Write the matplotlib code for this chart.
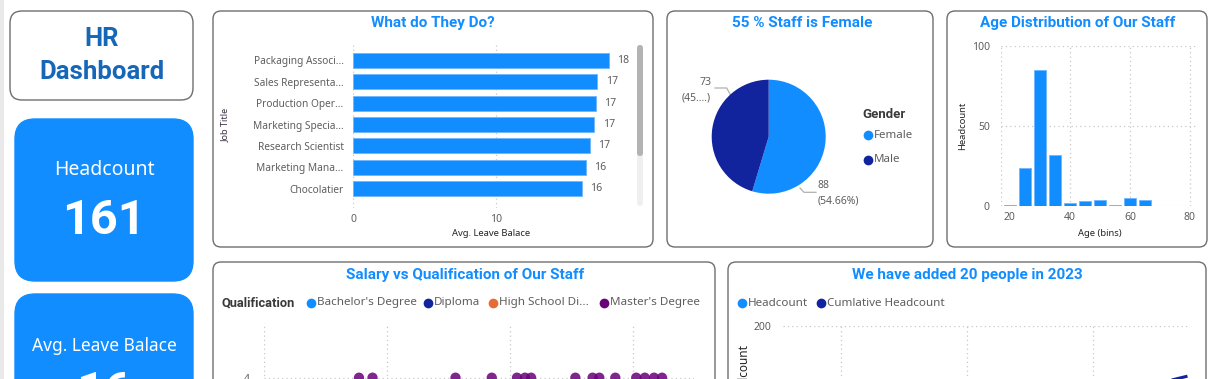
import matplotlib
matplotlib.use("Agg")
import matplotlib.pyplot as plt
from matplotlib.patches import FancyBboxPatch, Rectangle

W, H = 1221, 379
BLUE = "#118DFF"
NAVY = "#12239E"
ORANGE = "#E66C37"
PURPLE = "#6B007B"
TITLE_C = "#118DFF"
GRAY_TXT = "#605E5C"
DARK_TXT = "#252423"
GRID_C = "#C8C8C8"
BORDER_C = "#6E6E6E"
HR_C = "#1767B8"
BODY = ["Noto Sans", "DejaVu Sans"]
BOLD_F = ["Roboto", "DejaVu Sans"]
TITLE_F = ["Roboto", "DejaVu Sans"]
NUM_F = ["Roboto", "DejaVu Sans"]

# ---------------- data ----------------
kpi_headcount = "161"
kpi_leave = "16"
job_titles = ["Packaging Associ...", "Sales Representa...", "Production Oper...",
              "Marketing Specia...", "Research Scientist", "Marketing Mana...",
              "Chocolatier"]
job_leave = [17.9, 17.1, 17.0, 16.9, 16.6, 16.3, 16.0]
gender_labels = ["Female", "Male"]
gender_counts = [88, 73]
gender_pct_text = ["(54.66%)", "(45....)"]
age_bins = [20, 25, 30, 35, 40, 45, 50, 55, 60, 65]
age_counts = [1, 24, 85, 32, 2, 3, 4, 1, 5, 4]
qual_labels = ["Bachelor's Degree", "Diploma", "High School Di...", "Master's Degree"]
masters_salary = [35.5, 37.7, 51.2, 57.1, 61.2, 62.5, 63.5, 70.7, 73.5, 74.6,
                  77.2, 80.6, 82.0, 83.5, 84.8]
masters_level = [4] * len(masters_salary)
hire_period = [2022.75, 2023.0, 2023.25, 2023.5, 2023.75]
hire_headcount = [4, 5, 6, 8, 6]
hire_cumulative = [136, 141, 147, 155, 161]

# ---------------- figure ----------------
fig = plt.figure(figsize=(W / 100, H / 100), dpi=100)
fig.patch.set_facecolor("white")
bg = fig.add_axes([0, 0, 1, 1])
bg.set_xlim(0, W)
bg.set_ylim(H, 0)
bg.axis("off")


def ax_px(x0, y0, x1, y1):
    return fig.add_axes([x0 / W, 1 - y1 / H, (x1 - x0) / W, (y1 - y0) / H])


def rbox(x0, y0, x1, y1, r, fc="white", ec=BORDER_C, lw=1.0):
    bg.add_patch(FancyBboxPatch((x0, y0), x1 - x0, y1 - y0,
                                boxstyle=f"round,pad=0,rounding_size={r}",
                                fc=fc, ec=ec, lw=lw))


def style_grid_ax(ax):
    ax.set_facecolor("none")
    for s in ax.spines.values():
        s.set_visible(False)
    ax.tick_params(length=0, colors=GRAY_TXT, labelsize=7.5)


DOT = (0, (1, 2.5))

# left strip
bg.add_patch(Rectangle((0, 0), 4, H, fc="#E9E9E9", ec="none"))

# HR box
rbox(10, 11, 193, 100, 12)
bg.text(101.5, 39, "HR", ha="center", va="center", color=HR_C, fontsize=18.5,
        fontweight="bold", family=BOLD_F)
bg.text(101.5, 72, "Dashboard", ha="center", va="center", color=HR_C, fontsize=18.5,
        fontweight="bold", family=BOLD_F)

# KPI cards
rbox(15, 119, 193, 281, 20, fc=BLUE, ec=BLUE)
bg.text(104, 170, "Headcount", ha="center", va="center", color="white",
        fontsize=14, family=BODY)
bg.text(104, 221, kpi_headcount, ha="center", va="center", color="white",
        fontsize=35, fontweight="bold", family=NUM_F)
rbox(15, 294, 193, 460, 20, fc=BLUE, ec=BLUE)
bg.text(104, 346, "Avg. Leave Balace", ha="center", va="center", color="white",
        fontsize=12.5, family=BODY)
bg.text(104, 393, kpi_leave, ha="center", va="center", color="white",
        fontsize=35, fontweight="bold", family=NUM_F)

# panel frames
rbox(213, 11, 653, 247, 8)
rbox(667, 11, 933, 247, 8)
rbox(947, 11, 1207, 247, 8)
rbox(213, 262, 715, 460, 8)
rbox(728, 262, 1206, 460, 8)

# titles
for x, y, t in [(433, 23, "What do They Do?"), (802, 23, "55 % Staff is Female"),
                (1078, 23, "Age Distribution of Our Staff"),
                (465, 275, "Salary vs Qualification of Our Staff"),
                (967, 275, "We have added 20 people in 2023")]:
    bg.text(x, y, t, ha="center", va="center", color=TITLE_C, fontsize=11,
            fontweight="bold", family=TITLE_F)

# ---------------- bar chart ----------------
ax1 = ax_px(353.3, 44, 630, 208)
style_grid_ax(ax1)
ypos = list(range(len(job_titles)))
bars = ax1.barh(ypos, job_leave, height=0.7, color=BLUE, edgecolor="#6FB6FF", lw=0.6)
ax1.set_ylim(6.9, -0.76)
ax1.set_xlim(0, 19.4)
ax1.set_yticks(ypos)
ax1.set_yticklabels(job_titles, family=BODY, fontsize=7.3, color=GRAY_TXT)
ax1.set_xticks([0, 10])
ax1.set_xticklabels(["0", "10"], family=BODY, fontsize=7.5, color=GRAY_TXT)
ax1.tick_params(axis="y", pad=7)
ax1.tick_params(axis="x", pad=4)
ax1.grid(axis="x", color=GRID_C, lw=0.9, ls=DOT)
ax1.set_axisbelow(True)
ax1.bar_label(bars, labels=[f"{v:.0f}" for v in job_leave], padding=6,
              fontsize=7.5, color=GRAY_TXT, family=BODY)
bg.text(491.5, 234, "Avg. Leave Balace", ha="center", va="center", color=DARK_TXT,
        fontsize=6.8, family=BODY)
bg.text(225, 125, "Job Title", ha="center", va="center", rotation=90, color="#3A2F45",
        fontsize=6.5, family=BODY)
# scrollbar
bg.add_patch(FancyBboxPatch((637, 45), 6, 161, boxstyle="round,pad=0,rounding_size=3",
                            fc="#EFEFEF", ec="none"))
bg.add_patch(FancyBboxPatch((637, 45), 6, 111, boxstyle="round,pad=0,rounding_size=3",
                            fc="#B3B3B3", ec="none"))

# ---------------- pie ----------------
ax2 = ax_px(711.7, 79.7, 825.7, 193.7)
ax2.pie(gender_counts, colors=[BLUE, NAVY], startangle=90, counterclock=False,
        radius=1, wedgeprops=dict(lw=0))
ax2.set_xlim(-1, 1)
ax2.set_ylim(-1, 1)
bg.text(711, 90.5, f"{gender_counts[1]}\n{gender_pct_text[1]}", ha="right",
        va="center", color=GRAY_TXT, fontsize=7.5, family=BODY, linespacing=1.55)
bg.text(818, 193, f"{gender_counts[0]}\n{gender_pct_text[0]}", ha="left",
        va="center", color=GRAY_TXT, fontsize=7.5, family=BODY, linespacing=1.55)
bg.plot([715, 726.7, 730.7], [88, 88, 95.3], color="#B0B0B0", lw=0.9)
bg.plot([800, 804, 816], [188, 192.3, 192.3], color="#B0B0B0", lw=0.9)
bg.text(862, 115, "Gender", ha="left", va="center", color="#3B3A39", fontsize=9.5,
        fontweight="bold", family=BOLD_F)
for yy, lab, c in [(135, gender_labels[0], BLUE), (160, gender_labels[1], NAVY)]:
    bg.plot([867.5], [yy], "o", ms=7, color=c, mec="none")
    bg.text(874, yy, lab, ha="left", va="center", color=GRAY_TXT, fontsize=8.3,
            family=BODY)

# ---------------- histogram ----------------
ax3 = ax_px(1001, 46.3, 1198, 206.3)
style_grid_ax(ax3)
ax3.bar(age_bins, age_counts, width=3.9, color=BLUE, edgecolor="#6FB6FF", lw=0.6)
ax3.set_xlim(17, 82.7)
ax3.set_ylim(0, 100)
ax3.set_xticks([20, 40, 60, 80])
ax3.set_yticks([0, 50, 100])
ax3.set_xticklabels(["20", "40", "60", "80"], family=BODY, fontsize=7.5, color=GRAY_TXT)
ax3.set_yticklabels(["0", "50", "100"], family=BODY, fontsize=7.5, color=GRAY_TXT)
ax3.tick_params(axis="y", pad=8)
ax3.tick_params(axis="x", pad=4)
ax3.grid(color=GRID_C, lw=0.9, ls=DOT)
ax3.get_xgridlines()[0].set_visible(False)
ax3.axvline(17, color=GRID_C, lw=0.9, ls=DOT)
ax3.set_axisbelow(True)
bg.text(1100, 234, "Age (bins)", ha="center", va="center", color=DARK_TXT,
        fontsize=6.8, family=BODY)
bg.text(963, 126, "Headcount", ha="center", va="center", rotation=90, color=DARK_TXT,
        fontsize=6.8, family=BODY)

# ---------------- scatter ----------------
ax4 = ax_px(263.7, 323, 694, 596.5)
style_grid_ax(ax4)
ax4.scatter(masters_salary, masters_level, s=55, color=PURPLE, alpha=0.85,
            edgecolors="none", zorder=3)
ax4.set_xlim(20, 90)
ax4.set_ylim(0, 5)
ax4.set_xticks([20, 40, 60, 80])
ax4.set_yticks([1, 2, 3, 4])
ax4.set_xticklabels([])
ax4.set_yticklabels(["1", "2", "3", "4"], family=BODY, fontsize=7.5, color=GRAY_TXT)
ax4.tick_params(axis="y", pad=10)
ax4.grid(color=GRID_C, lw=0.9, ls=DOT)
ax4.set_axisbelow(True)
bg.text(222, 303, "Qualification", ha="left", va="center", color="#3B3A39",
        fontsize=9.3, fontweight="bold", family=BOLD_F)
for cx, lab, c in [(310.7, qual_labels[0], BLUE), (428, qual_labels[1], NAVY),
                   (493, qual_labels[2], ORANGE), (604, qual_labels[3], PURPLE)]:
    bg.plot([cx], [303], "o", ms=7, color=c, mec="none")
    bg.text(cx + 6, 303, lab, ha="left", va="center", color=GRAY_TXT, fontsize=8.4,
            family=BODY)

# ---------------- line chart ----------------
ax5 = ax_px(783, 326.3, 1190, 582)
style_grid_ax(ax5)
ax5.plot(hire_period, hire_headcount, color=BLUE, lw=2)
ax5.plot(hire_period, hire_cumulative, color=NAVY, lw=2.2, solid_capstyle="butt")
ax5.set_xlim(2020.54, 2023.77)
ax5.set_ylim(0, 200)
ax5.set_xticks([2021, 2022, 2023])
ax5.set_xticklabels([])
ax5.set_yticks([0, 50, 100, 150, 200])
ax5.set_yticklabels(["0", "50", "100", "150", "200"], family=BODY, fontsize=7.5,
                    color=GRAY_TXT)
ax5.tick_params(axis="y", pad=8)
ax5.grid(color=GRID_C, lw=0.9, ls=DOT)
ax5.set_axisbelow(True)
bg.text(743, 374, "Headcount", ha="center", va="center", rotation=90, color=DARK_TXT,
        fontsize=8.5, family=BODY)
for cx, lab, c in [(741.7, "Headcount", BLUE), (820.7, "Cumlative Headcount", NAVY)]:
    bg.plot([cx], [303], "o", ms=7, color=c, mec="none")
    bg.text(cx + 6, 303, lab, ha="left", va="center", color=GRAY_TXT, fontsize=8.4,
            family=BODY)

fig.savefig("out.png", dpi=100, facecolor="white")
